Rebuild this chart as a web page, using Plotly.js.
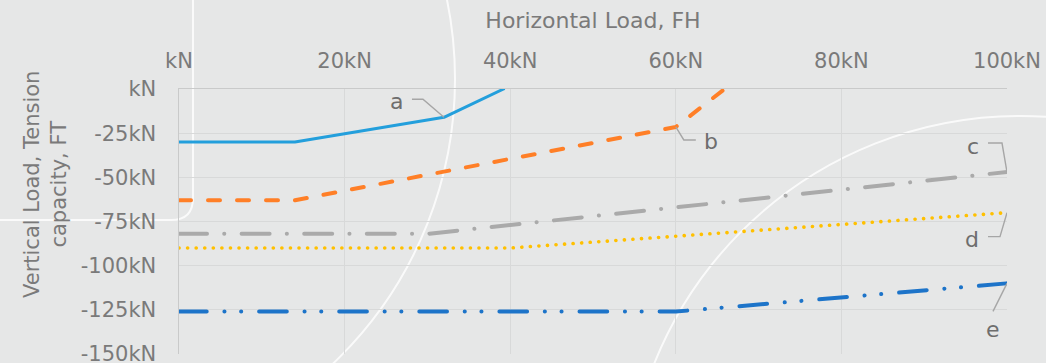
<!DOCTYPE html>
<html>
<head>
<meta charset="utf-8">
<script src="https://cdn.plot.ly/plotly-3.0.1.min.js"></script>
<style>
  html, body { margin: 0; padding: 0; background: #e6e7e7; }
  #chart { width: 1046px; height: 363px; }
  .scatterlayer .js-line { stroke-linecap: round !important; stroke-linejoin: round !important; }
</style>
</head>
<body>
<div id="chart"></div>
<script>
// ---- data ----
const seriesNames = ["a", "b", "c", "d", "e"];
const fhA = [0, 14, 32, 39.2];
const ftA = [-30, -30, -16, 0];
const fhB = [0, 14, 60, 65.9];
const ftB = [-63, -63, -21.5, 0];
const fhC = [0, 30, 100];
const ftC = [-82, -82, -47];
const fhD = [0, 40, 100];
const ftD = [-90, -90, -70];
const fhE = [0, 60, 100];
const ftE = [-126, -126, -110];

const xTickVals = [0, 20, 40, 60, 80, 100];
const xTickText = ["kN", "20kN", "40kN", "60kN", "80kN", "100kN"];
const yTickVals = [0, -25, -50, -75, -100, -125, -150];
const yTickText = ["kN", "-25kN", "-50kN", "-75kN", "-100kN", "-125kN", "-150kN"];

// ---- styling ----
const FONT = "DejaVu Sans";
const TXT = "#7a7a7a";
const W = 1046, H = 363, L = 179, R = 39, T = 89, B = 9;
const pw = W - L - R, ph = H - T - B;
const px = v => (v - L) / pw;          // pixel -> paper x
const py = v => (H - B - v) / ph;      // pixel -> paper y

const traces = [
  {x: fhA, y: ftA, name: seriesNames[0], line: {color: "#239fdc", width: 3}},
  {x: fhB, y: ftB, name: seriesNames[1], line: {color: "#ff7f27", width: 4, dash: "12px,17px"}},
  {x: fhC, y: ftC, name: seriesNames[2], line: {color: "#aaaaaa", width: 4, dash: "28px,17.2px,0.1px,17.3px"}},
  {x: fhD, y: ftD, name: seriesNames[3], line: {color: "#ffc000", width: 3.6, dash: "0.1px,8.47px"}},
  {x: fhE, y: ftE, name: seriesNames[4], line: {color: "#1d74c9", width: 4, dash: "27.7px,17.7px,0.1px,16.6px,0.1px,17.9px"}}
].map(t => Object.assign({type: "scatter", mode: "lines", hoverinfo: "skip"}, t));

// label anchors taken from the series' own points
const anchors = [
  {name: "a", x: fhA[2], y: ftA[2], dx: -47, dy: 16, path: "M0,0 L-21,18 L-32,18"},
  {name: "b", x: fhB[2], y: ftB[2], dx: 35, dy: -15, path: "M0,0 L8,-13 L20,-13"},
  {name: "c", x: fhC[2], y: ftC[2], dx: -34, dy: 26, path: "M0,0 L-5,29 L-19,29"},
  {name: "d", x: fhD[2], y: ftD[2], dx: -35, dy: -27, path: "M0,0 L-7,-24 L-19,-24"},
  {name: "e", x: fhE[2], y: ftE[2], dx: -14, dy: -46, path: "M0,0 L-14,-28"}
];

const arcLine = {color: "rgba(255,255,255,0.8)", width: 2};
const shapes = [
  // decorative white arcs of the background
  {type: "circle", xref: "paper", yref: "paper", layer: "below",
   x0: px(62 - 393), x1: px(62 + 393), y0: py(79 + 393), y1: py(79 - 393), line: arcLine},
  {type: "circle", xref: "paper", yref: "paper", layer: "below",
   x0: px(1020 - 394), x1: px(1020 + 394), y0: py(510 + 394), y1: py(510 - 394), line: arcLine},
  {type: "path", xref: "paper", yref: "paper", layer: "below", line: arcLine,
   path: `M${px(193)},${py(-5)} L${px(193)},${py(198)} Q${px(193)},${py(220)} ${px(171)},${py(220)} L${px(-10)},${py(220)}`}
].concat(anchors.map(a => ({
  type: "path", xref: "x", yref: "y", xsizemode: "pixel", ysizemode: "pixel",
  xanchor: a.x, yanchor: a.y, path: a.path, layer: "above",
  line: {color: "#a6a6a6", width: 1.4}
})));

const annotations = anchors.map(a => ({
  x: a.x, y: a.y, xref: "x", yref: "y", text: a.name, showarrow: false,
  xshift: a.dx, yshift: a.dy, font: {family: FONT, size: 22, color: "#6e6e6e"}
})).concat([{
  xref: "paper", yref: "paper", x: px(45), y: py(185), xanchor: "center", yanchor: "middle",
  textangle: -90, showarrow: false,
  text: "Vertical Load, Tension<br>capacity, FT", font: {family: FONT, size: 21, color: TXT}
}]);

const layout = {
  width: W, height: H,
  margin: {l: L, r: R, t: T, b: B, pad: 0},
  paper_bgcolor: "#e6e7e7", plot_bgcolor: "rgba(0,0,0,0)",
  showlegend: false,
  font: {family: FONT, size: 21, color: TXT},
  xaxis: {
    side: "top", range: [0, 100], tickvals: xTickVals, ticktext: xTickText,
    showgrid: true, gridcolor: "#d8d9d9", gridwidth: 1,
    showline: true, linecolor: "#c9caca", linewidth: 1.5,
    zeroline: false, ticks: "", ticklabelstandoff: 11, ticklabeloverflow: "allow",
    tickfont: {family: FONT, size: 21, color: TXT},
    title: {text: "Horizontal Load, FH", standoff: 14, font: {family: FONT, size: 22, color: TXT}},
    fixedrange: true
  },
  yaxis: {
    range: [-150, 0], tickvals: yTickVals, ticktext: yTickText,
    showgrid: true, gridcolor: "#d8d9d9", gridwidth: 1,
    showline: true, linecolor: "#c9caca", linewidth: 1.5,
    zeroline: false, ticks: "", ticklabelstandoff: 17, ticklabeloverflow: "allow",
    tickfont: {family: FONT, size: 21, color: TXT},
    fixedrange: true
  },
  shapes: shapes,
  annotations: annotations
};

Plotly.newPlot("chart", traces, layout, {displayModeBar: false, staticPlot: true});
</script>
</body>
</html>
